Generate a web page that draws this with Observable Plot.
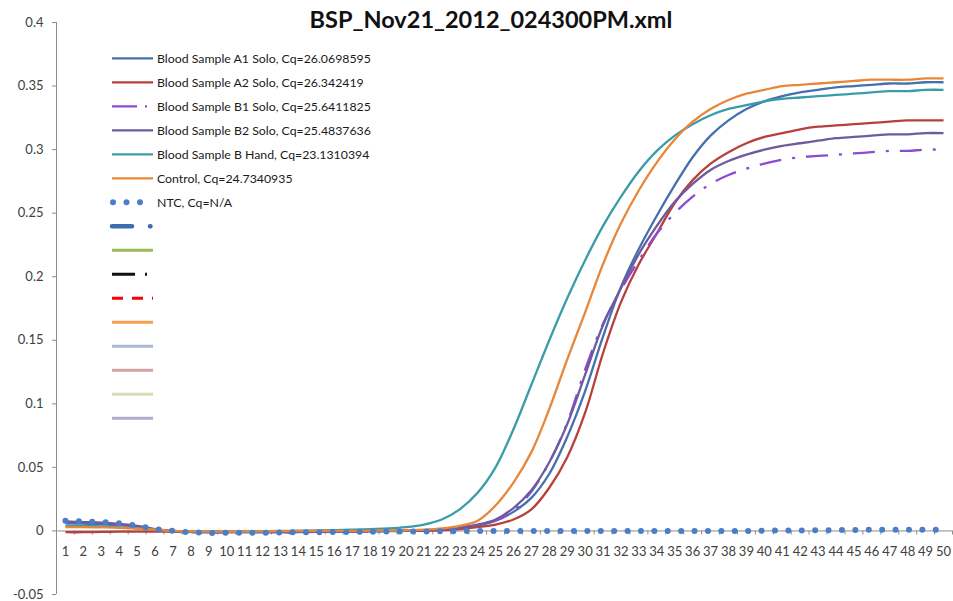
<!DOCTYPE html>
<html>
<head>
<meta charset="utf-8">
<script src="https://cdn.jsdelivr.net/npm/d3@7"></script>
<script src="https://cdn.jsdelivr.net/npm/@observablehq/plot@0.6"></script>
<style>
  html, body { margin: 0; padding: 0; background: #fff; }
  #wrap { position: relative; width: 953px; height: 601px; }
  #title { position: absolute; left: 491px; top: 5px; transform: translateX(-50%);
    font-family: Lato, "Open Sans", sans-serif; font-weight: bold; font-size: 23.5px; color: #111; white-space: nowrap; z-index: 2; }
  svg { font-family: Lato, "Open Sans", sans-serif; }
</style>
</head>
<body>
<div id="wrap"><div id="title">BSP_Nov21_2012_024300PM.xml</div></div>
<script>
const titleText = "BSP_Nov21_2012_024300PM.xml";
const cycles = d3.range(1, 51);
const yTicks = [-0.05, 0, 0.05, 0.1, 0.15, 0.2, 0.25, 0.3, 0.35, 0.4];

const seriesNames = [
  "Blood Sample A1 Solo, Cq=26.0698595",
  "Blood Sample A2 Solo, Cq=26.342419",
  "Blood Sample B1 Solo, Cq=25.6411825",
  "Blood Sample B2 Solo, Cq=25.4837636",
  "Blood Sample B Hand, Cq=23.1310394",
  "Control, Cq=24.7340935",
  "NTC, Cq=N/A"
];
const emptyLegendCount = 9;

const a1 = [0.006,0.0058,0.0052,0.0045,0.003,0.001,-0.0005,-0.001,-0.001,-0.001,-0.001,-0.001,-0.001,-0.001,-0.0008,-0.0006,-0.0005,-0.0004,-0.0002,0,0.0003,0.0008,0.002,0.004,0.008,0.015,0.026,0.045,0.074,0.110,0.153,0.192,0.222,0.248,0.272,0.294,0.311,0.323,0.332,0.338,0.342,0.345,0.347,0.349,0.350,0.351,0.352,0.352,0.353,0.353];
const a2 = [-0.001,-0.001,-0.0008,-0.0006,-0.0005,-0.0005,-0.0005,-0.0006,-0.0007,-0.0007,-0.0007,-0.0006,-0.0005,-0.0004,-0.0003,-0.0002,-0.0001,0,0,0,0.0002,0.0006,0.0015,0.003,0.005,0.009,0.017,0.034,0.058,0.093,0.140,0.180,0.210,0.234,0.258,0.276,0.289,0.298,0.305,0.310,0.313,0.316,0.318,0.319,0.320,0.321,0.322,0.323,0.323,0.323];
const b1 = [0.007,0.0068,0.006,0.005,0.0035,0.0015,0,-0.0008,-0.001,-0.001,-0.001,-0.001,-0.0009,-0.0008,-0.0006,-0.0005,-0.0004,-0.0002,0,0.0002,0.0006,0.0012,0.0025,0.0045,0.008,0.016,0.031,0.054,0.085,0.127,0.163,0.190,0.213,0.234,0.250,0.263,0.273,0.280,0.285,0.289,0.292,0.294,0.295,0.296,0.297,0.298,0.299,0.299,0.300,0.300];
const b2 = [0.0075,0.007,0.0065,0.0055,0.004,0.0015,0,-0.0008,-0.001,-0.001,-0.001,-0.001,-0.0009,-0.0008,-0.0006,-0.0005,-0.0004,-0.0002,0,0.0002,0.0006,0.0013,0.0028,0.005,0.009,0.018,0.032,0.054,0.084,0.123,0.162,0.191,0.218,0.240,0.259,0.273,0.284,0.291,0.296,0.300,0.303,0.305,0.307,0.309,0.310,0.311,0.312,0.312,0.313,0.313];
const bHand = [0.004,0.004,0.0035,0.003,0.002,0.001,0,-0.0005,-0.0005,-0.0005,-0.0004,-0.0002,0,0.0002,0.0004,0.0007,0.001,0.0015,0.002,0.003,0.005,0.009,0.017,0.030,0.050,0.080,0.115,0.150,0.183,0.213,0.240,0.263,0.283,0.299,0.311,0.320,0.327,0.332,0.335,0.338,0.340,0.341,0.342,0.343,0.344,0.345,0.346,0.346,0.347,0.347];
const control = [0.003,0.003,0.0028,0.0025,0.0018,0.001,0,-0.0003,-0.0005,-0.0005,-0.0004,-0.0003,-0.0002,-0.0001,0,0,0,0.0002,0.0003,0.0005,0.001,0.002,0.004,0.008,0.020,0.038,0.062,0.096,0.135,0.172,0.210,0.242,0.268,0.290,0.308,0.322,0.332,0.339,0.344,0.347,0.350,0.351,0.352,0.353,0.354,0.355,0.355,0.355,0.356,0.356];
const ntc = [0.008,0.0075,0.007,0.006,0.004,0.0015,0,-0.001,-0.0015,-0.0015,-0.0015,-0.0015,-0.0012,-0.001,-0.001,-0.0008,-0.0008,-0.0006,-0.0005,-0.0005,-0.0004,-0.0003,-0.0002,0,0,0,0,0,0,0,0,0,0,0,0,0,0,0,0,0.0002,0.0003,0.0004,0.0005,0.0006,0.0008,0.0009,0.001,0.001,0.001,0.001];

const seriesValues = [a1, a2, b1, b2, bHand, control, ntc];

// styles
const seriesStyles = [
  {stroke: "#4470AE", width: 2.3},
  {stroke: "#B8403C", width: 2.3},
  {stroke: "#8A4CD0", width: 2.3, dash: "22,11,3,11"},
  {stroke: "#6E5A9E", width: 2.3},
  {stroke: "#3A9CA8", width: 2.3},
  {stroke: "#E8873A", width: 2.3},
  {stroke: "#4A7EC6", width: 6, dash: "0,13.4", cap: "round"}
];
const extraLegendStyles = [
  {stroke: "#3F6CB0", width: 4.5, dash: "20,18,0.5,20", cap: "round"},
  {stroke: "#9BBB59", width: 3},
  {stroke: "#111111", width: 3, dash: "23,10,2,10"},
  {stroke: "#FF0000", width: 3, dash: "11,9"},
  {stroke: "#F4A050", width: 3},
  {stroke: "#A9B8D4", width: 3},
  {stroke: "#D6A2A6", width: 3},
  {stroke: "#D2DFB2", width: 3},
  {stroke: "#B3ABD0", width: 3}
];

const rows = seriesNames.flatMap((name, s) =>
  cycles.map((c, i) => ({cycle: c, value: seriesValues[s][i], series: name})));

const boundaries = d3.range(0.5, 51, 1);
const fmt = d => d === 0 ? "0" : String(+d.toFixed(2));

const lineMarks = seriesNames.map((name, s) => {
  const st = seriesStyles[s];
  return Plot.line(rows.filter(r => r.series === name), {
    x: "cycle", y: "value", stroke: st.stroke, strokeWidth: st.width,
    strokeDasharray: st.dash, strokeLinecap: st.cap || "butt",
    curve: "catmull-rom"
  });
});

const plot = Plot.plot({
  width: 953,
  height: 601,
  marginLeft: 56,
  marginRight: 1,
  marginTop: 22,
  marginBottom: 7,
  style: {color: "#404040", background: "#fff", fontSize: "13px"},
  x: {domain: [0.5, 50.5], axis: null},
  y: {domain: [-0.05, 0.4], axis: null},
  marks: [
    Plot.ruleY([0], {stroke: "#8c8c8c", strokeWidth: 1}),
    Plot.ruleX(boundaries, {y1: 0, y2: -0.0032, stroke: "#8c8c8c"}),
    Plot.ruleX([0.5], {y1: -0.05, y2: 0.4, stroke: "#8c8c8c"}),
    Plot.axisY(yTicks, {tickSize: 4, tickPadding: 9, tickFormat: fmt, stroke: "#8c8c8c", fill: "#404040", fontSize: 13, label: null}),
    Plot.text(cycles, {x: d => d, y: () => 0, text: d => String(d), dy: 21, fill: "#404040", fontSize: 13}),
    ...lineMarks
  ]
});

document.getElementById("wrap").appendChild(plot);

// legend overlay
const svg = d3.select(plot);
const leg = svg.append("g").attr("class", "legend").attr("text-anchor", "start");
const legendItems = seriesNames.map((n, i) => ({label: n, style: seriesStyles[i]}))
  .concat(extraLegendStyles.map(st => ({label: "", style: st})));
legendItems.forEach((item, i) => {
  const y = 58.3 + 24 * i;
  const st = item.style;
  let x1 = 112, x2 = 153;
  if (i === 6) { x1 = 113; x2 = 142; }
  leg.append("line")
    .attr("x1", x1).attr("x2", x2).attr("y1", y).attr("y2", y)
    .attr("stroke", st.stroke)
    .attr("stroke-width", i < 6 ? 2.3 : st.width)
    .attr("stroke-dasharray", i === 6 ? "0,13.5" : (i === 2 ? "25,8,2,8" : (st.dash || null)))
    .attr("stroke-linecap", st.cap || "butt");
  if (item.label) {
    leg.append("text")
      .attr("x", 157).attr("y", y).attr("dy", "0.35em")
      .attr("text-anchor", "start")
      .attr("fill", "#1a1a1a").attr("font-size", 12.3)
      .text(item.label);
  }
});
</script>
</body>
</html>
